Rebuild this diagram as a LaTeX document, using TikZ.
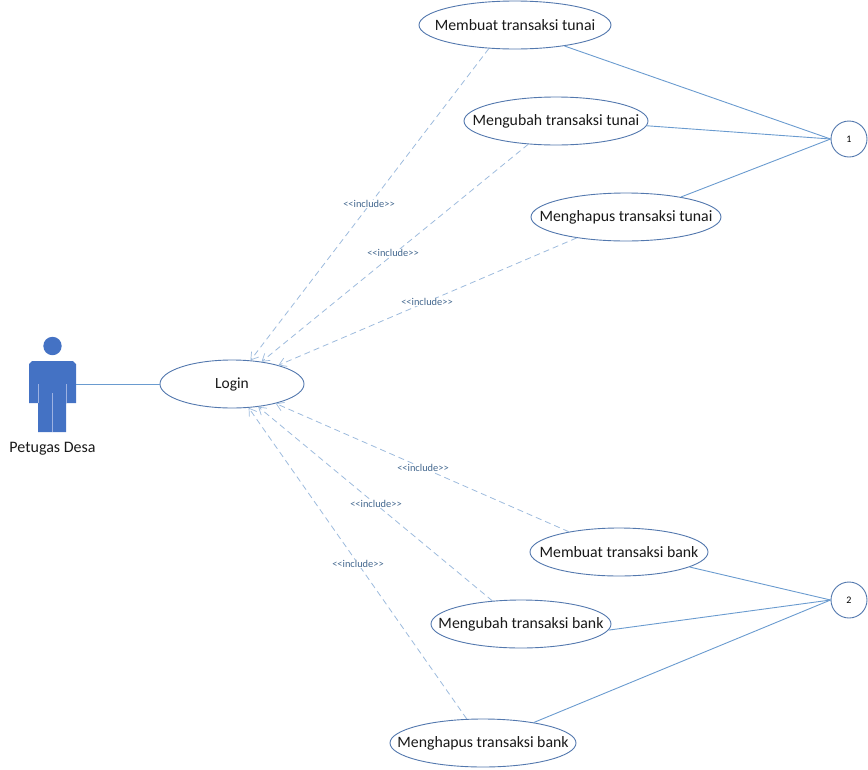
\documentclass[tikz,border=0pt]{standalone}
\usepackage{fontspec}
\setmainfont{Carlito}
\usetikzlibrary{shapes.geometric,arrows.meta}
\definecolor{actorblue}{HTML}{4472C4}
\definecolor{actorlight}{HTML}{9DB2E2}
\definecolor{edgeline}{HTML}{6A9BCF}
\definecolor{ucline}{HTML}{5378AE}
\definecolor{dashline}{HTML}{9DBBDD}
\definecolor{inclabel}{HTML}{44688F}
\newcommand{\uctext}[1]{\makebox[0pt]{\raisebox{-2.5pt}{#1}}}
\tikzset{
  usecase/.style={ellipse,draw=ucline,fill=white,line width=0.9pt,inner sep=0pt,minimum height=48pt,font=\fontsize{15.8}{18}\selectfont,text=black!90},
  ref/.style={circle,draw=ucline,fill=white,line width=0.9pt,minimum size=36pt,inner sep=0pt,font=\fontsize{10}{12}\selectfont,text=black},
  assoc/.style={draw=edgeline,line width=0.9pt},
  incl/.style={draw=dashline,line width=0.8pt,dash pattern=on 6pt off 4pt,-{Straight Barb[length=7pt,width=9pt,line width=0.7pt]}},
  inclab/.style={fill=white,inner sep=0.5pt,text=inclabel,font=\fontsize{10.4}{12}\selectfont},
  actorlabel/.style={inner sep=0pt,text=black!90,font=\fontsize{16}{18}\selectfont}
}
\begin{document}
\begin{tikzpicture}[x=1pt,y=-1pt]
\useasboundingbox (0,0) rectangle (868,769);
% actor
\fill[actorblue] (52.5,346) circle (9.2);
\fill[actorblue] (32,361) -- (73,361) -- (76,364) -- (76,403) -- (66,403) -- (66,432) -- (38,432) -- (38,403) -- (29,403) -- (29,364) -- cycle;
\draw[actorlight,line width=0.8pt] (38,384) -- (38,403) (66,384) -- (66,403) (52.5,393) -- (52.5,432);
\coordinate (hand) at (76,384);
\node[actorlabel] (actor) at (52.5,449) {Petugas Desa};
% use cases
\node[usecase,minimum width=144pt] (login) at (232,384) {\uctext{\fontsize{15.5}{18}\selectfont Login}};
\node[usecase,minimum width=192pt] (mt) at (515,25) {\uctext{Membuat transaksi tunai}};
\node[usecase,minimum width=184pt] (ut) at (556,121) {\uctext{Mengubah transaksi tunai}};
\node[usecase,minimum width=190pt] (ht) at (626,217) {\uctext{Menghapus transaksi tunai}};
\node[usecase,minimum width=178pt] (mb) at (619,552) {\uctext{Membuat transaksi bank}};
\node[usecase,minimum width=180pt] (ub) at (521,624) {\uctext{Mengubah transaksi bank}};
\node[usecase,minimum width=186pt] (hb) at (483,743) {\uctext{Menghapus transaksi bank}};
\node[ref] (r1) at (849,139) {1};
\node[ref] (r2) at (849,600) {2};
% associations
\draw[assoc] (hand) -- (login.west);
\draw[assoc] (mt.-23) -- (r1.west);
\draw[assoc] (ut.-3.7) -- (r1.west);
\draw[assoc] (ht.20.7) -- (r1.west);
\draw[assoc] (mb.-12.9) -- (r2.west);
\draw[assoc] (ub.-4.4) -- (r2.west);
\draw[assoc] (hb.22.8) -- (r2.west);
% includes
\draw[incl] (mt.222.6) -- (login.52);
\draw[incl] (ut.220.4) -- (login.37);
\draw[incl] (ht.203.6) -- (login.22.4);
\draw[incl] (mb.158) -- (login.-24);
\draw[incl] (ub.141.8) -- (login.-41.5);
\draw[incl] (hb.124.8) -- (login.-55.2);
\node[inclab] (l1) at (369,204) {<{}<include>{}>};
\node[inclab] (l2) at (393,253) {<{}<include>{}>};
\node[inclab] (l3) at (427,302) {<{}<include>{}>};
\node[inclab] (l4) at (423,468) {<{}<include>{}>};
\node[inclab] (l5) at (376,504) {<{}<include>{}>};
\node[inclab] (l6) at (358,564) {<{}<include>{}>};
\end{tikzpicture}
\end{document}
